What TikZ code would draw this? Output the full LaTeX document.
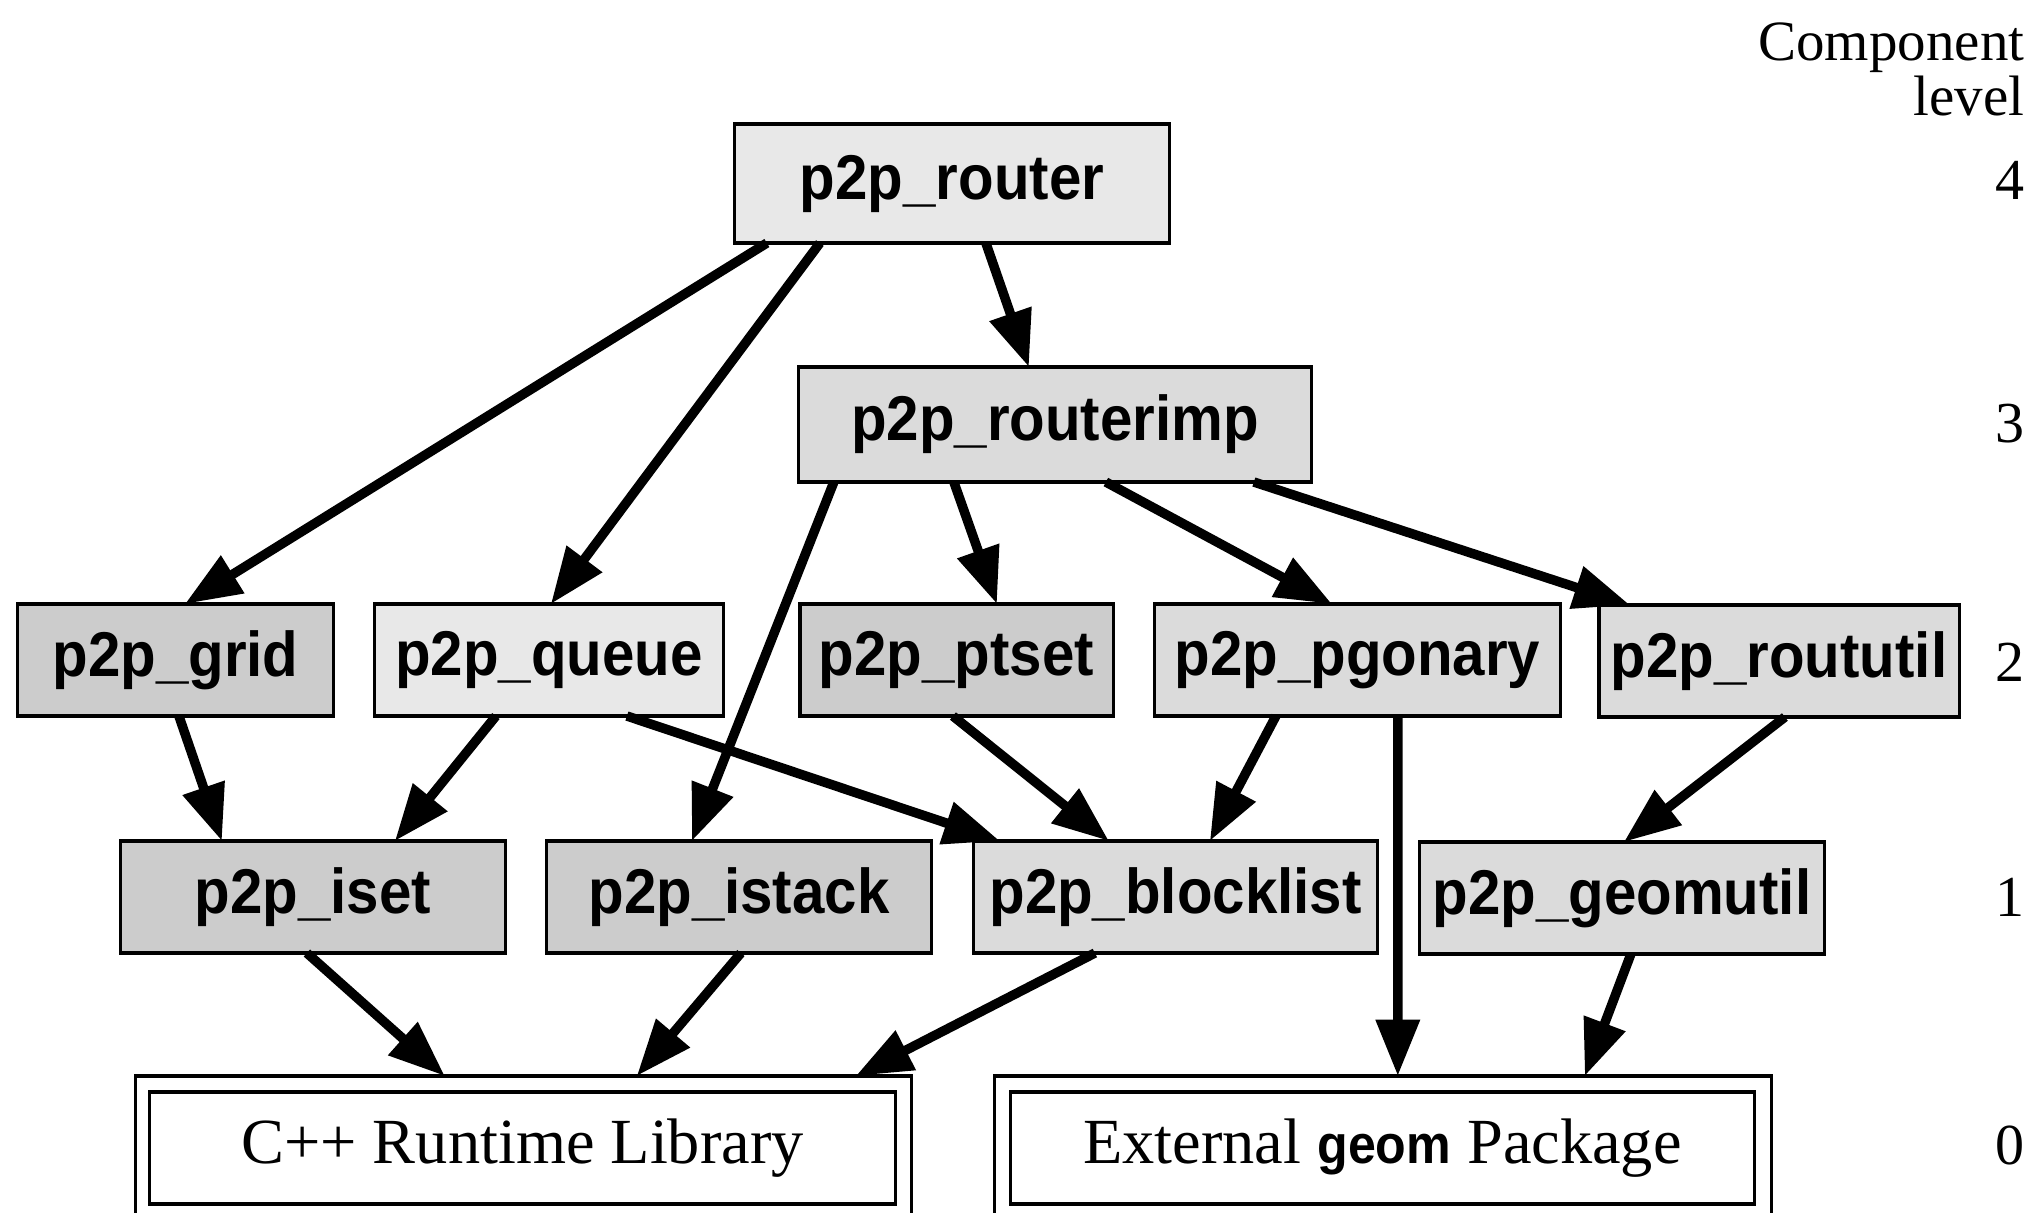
\documentclass[tikz,border=0pt]{standalone}
\usepackage{fontspec}
\setmainfont{Liberation Serif}
\newfontfamily\labfont[FakeStretch=0.92]{Liberation Sans}
\usetikzlibrary{arrows.meta,calc}
\begin{document}
\begin{tikzpicture}[x=0.01cm,y=-0.01cm]
\tikzset{
  comp/.style={draw, line width=0.9pt, inner sep=0pt, outer sep=0pt,
    font=\labfont\bfseries\fontsize{18}{20}\selectfont},
  dk/.style={comp, fill=black!20},
  md/.style={comp, fill=black!14},
  lt/.style={comp, fill=black!9},
  arr/.style={line width=2.7pt, -{Triangle[length=16pt,width=12pt]}},
  extbox/.style={draw, line width=0.9pt, inner sep=0pt, outer sep=0pt, fill=white},
  serif/.style={font=\fontsize{18.3}{20}\selectfont},
  lvl/.style={anchor=east, inner sep=0pt, font=\fontsize{16.5}{18}\selectfont},
  hdr/.style={anchor=base east, inner sep=0pt, font=\fontsize{16.2}{18}\selectfont}
}
\useasboundingbox (0,0) rectangle (2034,1213);
\clip (0,0) rectangle (2034,1213);

% level 4 and 3
\node[lt, minimum width=4.34cm, minimum height=1.19cm] (router) at (952,183.5) {p2p\_router};
\node[md, minimum width=5.12cm, minimum height=1.15cm] (routerimp) at (1055,424.5) {p2p\_routerimp};

% level 2
\node[dk, minimum width=3.15cm, minimum height=1.12cm] (grid) at (175.5,660) {p2p\_grid};
\node[lt, minimum width=3.48cm, minimum height=1.12cm] (queue) at (549,660) {p2p\_queue};
\node[dk, minimum width=3.13cm, minimum height=1.12cm] (ptset) at (956.5,660) {p2p\_ptset};
\node[md, minimum width=4.05cm, minimum height=1.12cm] (pgonary) at (1357.5,660) {p2p\_pgonary};
\node[md, minimum width=3.60cm, minimum height=1.12cm] (roututil) at (1779,661) {p2p\_roututil};

% level 1
\node[dk, minimum width=3.84cm, minimum height=1.12cm] (iset) at (313,897) {p2p\_iset};
\node[dk, minimum width=3.84cm, minimum height=1.12cm] (istack) at (739,897) {p2p\_istack};
\node[md, minimum width=4.03cm, minimum height=1.12cm] (blocklist) at (1175.5,897) {p2p\_blocklist};
\node[md, minimum width=4.04cm, minimum height=1.12cm] (geomutil) at (1622,898) {p2p\_geomutil};

% level 0
\node[extbox, minimum width=7.75cm, minimum height=1.44cm] (cpp) at (523.5,1148) {};
\node[extbox, serif, minimum width=7.45cm, minimum height=1.12cm] (cppin) at (522.5,1148) {C++ Runtime Library};
\node[extbox, minimum width=7.76cm, minimum height=1.44cm] (ext) at (1383,1148) {};
\node[extbox, serif, minimum width=7.43cm, minimum height=1.12cm] (extin) at (1382.5,1148)
  {External {\labfont\bfseries\fontsize{15.5}{18}\selectfont geom} Package};

% level labels
\node[hdr] (hdr1) at (2025,61) {Component};
\node[hdr] (hdr2) at (2025,116) {level};
\node[lvl] (l4) at (2025,180) {4};
\node[lvl] (l3) at (2025,424) {3};
\node[lvl] (l2) at (2025,662) {2};
\node[lvl] (l1) at (2025,897) {1};
\node[lvl] (l0) at (2025,1145) {0};

% connectors
\draw[arr] ($(router.south west)+(32,0)$) -- ($(grid.north west)+(167,0)$);
\draw[arr] ($(router.south west)+(85,0)$) -- ($(queue.north west)+(176,0)$);
\draw[arr] ($(router.south west)+(251,0)$) -- ($(routerimp.north west)+(230,0)$);
\draw[arr] ($(routerimp.south west)+(35,0)$) -- ($(istack.north west)+(145,0)$);
\draw[arr] ($(routerimp.south west)+(155,0)$) -- ($(ptset.north west)+(197,0)$);
\draw[arr] ($(routerimp.south west)+(307,0)$) -- ($(pgonary.north west)+(177,0)$);
\draw[arr] ($(routerimp.south west)+(455,0)$) -- ($(roututil.north west)+(31,0)$);
\draw[arr] ($(grid.south west)+(161,0)$) -- ($(iset.north west)+(101,0)$);
\draw[arr] ($(queue.south west)+(121,0)$) -- ($(iset.north west)+(274,0)$);
\draw[arr] ($(queue.south west)+(252,0)$) -- ($(blocklist.north west)+(26,0)$);
\draw[arr] ($(ptset.south west)+(153,0)$) -- ($(blocklist.north west)+(135,0)$);
\draw[arr] ($(pgonary.south west)+(121,0)$) -- ($(blocklist.north west)+(236,0)$);
\draw[arr] ($(pgonary.south west)+(243,0)$) -- ($(ext.north west)+(403,0)$);
\draw[arr] ($(roututil.south west)+(186,0)$) -- ($(geomutil.north west)+(204,0)$);
\draw[arr] ($(iset.south west)+(186,0)$) -- ($(cpp.north west)+(309,0)$);
\draw[arr] ($(istack.south west)+(194,0)$) -- ($(cpp.north west)+(501,0)$);
\draw[arr] ($(blocklist.south west)+(121,0)$) -- ($(cpp.north west)+(720,0)$);
\draw[arr] ($(geomutil.south west)+(211,0)$) -- ($(ext.north west)+(590,0)$);
\end{tikzpicture}
\end{document}
